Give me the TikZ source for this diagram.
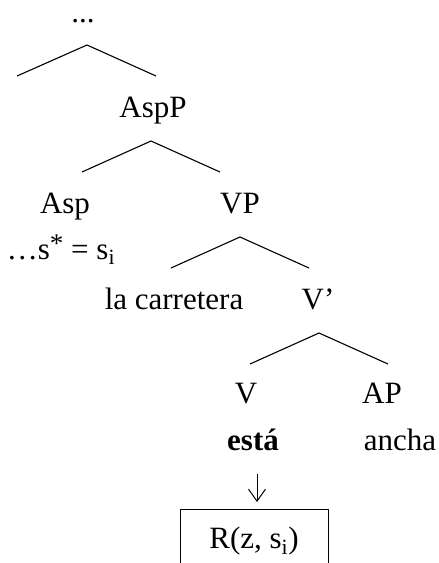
\documentclass[tikz,border=0pt]{standalone}
\usepackage{fontspec}
\setmainfont{Liberation Serif}
\usetikzlibrary{arrows.meta}
\begin{document}
\begin{tikzpicture}[x=1pt,y=-1pt,
  lbl/.style={anchor=base, inner sep=0pt, font=\fontsize{31}{36}\selectfont},
  branch/.style={line width=1.1pt},
  downarrow/.style={line width=1pt, -{Straight Barb[length=12pt,width=17pt,line width=1pt]}},
  framebox/.style={draw, line width=1pt, anchor=north, minimum width=148pt, text height=39pt, text depth=60pt}]
\useasboundingbox (0,0) rectangle (439,563);
\clip (0,0) rectangle (439,563);

\node[lbl] (top) at (83,22) {...};
\coordinate (a1) at (87,45);
\coordinate (l1) at (17,76);
\coordinate (r1) at (156,76);
\draw[branch] (l1) -- (a1) -- (r1);

\node[lbl] (aspp) at (153,117) {AspP};
\coordinate (a2) at (151,141);
\coordinate (l2) at (82,172);
\coordinate (r2) at (220,172);
\draw[branch] (l2) -- (a2) -- (r2);

\node[lbl] (asp) at (65,213) {Asp};
\node[lbl] (vp) at (240,213) {VP};
\node[lbl] (ssi) at (61,259) {\ldots s\raisebox{7pt}{\fontsize{27}{30}\selectfont *} = s\textsubscript{i}};

\coordinate (a3) at (240,237);
\coordinate (l3) at (171,268);
\coordinate (r3) at (309,268);
\draw[branch] (l3) -- (a3) -- (r3);

\node[lbl] (lc) at (174,309) {la carretera};
\node[lbl] (vbar) at (318,309) {V’};

\coordinate (a4) at (319,333);
\coordinate (l4) at (250,364);
\coordinate (r4) at (388,364);
\draw[branch] (l4) -- (a4) -- (r4);

\node[lbl] (v) at (246,403) {V};
\node[lbl] (ap) at (382,403) {AP};
\node[lbl] (esta) at (253,450) {\textbf{está}};
\node[lbl] (ancha) at (400,450) {ancha};

\node[lbl, framebox] (box) at (254,509) {R(z, s\textsubscript{i})};
\draw[downarrow, shorten <=23pt, shorten >=7pt] ([xshift=4pt]esta.south) -- ([xshift=4pt]esta.south |- box.north);
\end{tikzpicture}
\end{document}
